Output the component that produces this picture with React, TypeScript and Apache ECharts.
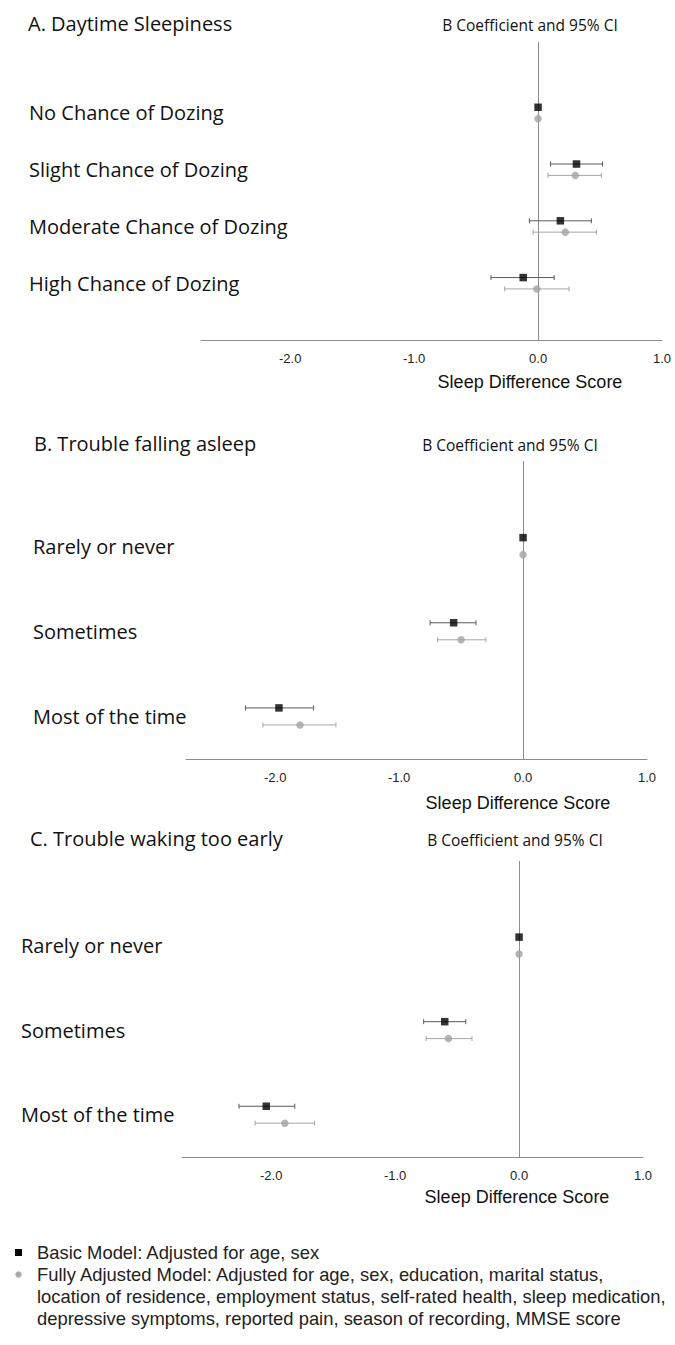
import React, { useEffect, useRef } from 'react';
import * as echarts from 'echarts';

// ---------- data ----------
const catsA = ['No Chance of Dozing', 'Slight Chance of Dozing', 'Moderate Chance of Dozing', 'High Chance of Dozing'];
const basicA = [0, 0.31, 0.18, -0.12];
const basicALo = [null, 0.10, -0.07, -0.38];
const basicAHi = [null, 0.52, 0.43, 0.13];
const fullA = [0, 0.30, 0.22, -0.01];
const fullALo = [null, 0.08, -0.04, -0.27];
const fullAHi = [null, 0.51, 0.47, 0.25];

const catsB = ['Rarely or never', 'Sometimes', 'Most of the time'];
const basicB = [0, -0.56, -1.97];
const basicBLo = [null, -0.75, -2.24];
const basicBHi = [null, -0.38, -1.69];
const fullB = [0, -0.50, -1.80];
const fullBLo = [null, -0.69, -2.10];
const fullBHi = [null, -0.30, -1.51];

const catsC = ['Rarely or never', 'Sometimes', 'Most of the time'];
const basicC = [0, -0.60, -2.04];
const basicCLo = [null, -0.77, -2.26];
const basicCHi = [null, -0.43, -1.81];
const fullC = [0, -0.57, -1.89];
const fullCLo = [null, -0.75, -2.13];
const fullCHi = [null, -0.38, -1.65];

const xTicks = [-2, -1, 0, 1];
const panelTitles = ['A. Daytime Sleepiness', 'B. Trouble falling asleep', 'C. Trouble waking too early'];
const coefTitle = 'B Coefficient and 95% CI';
const xName = 'Sleep Difference Score';
const legendBasic = ['Basic Model: Adjusted for age, sex'];
const legendFull = [
  'Fully Adjusted Model: Adjusted for age, sex, education, marital status,',
  'location of residence, employment status, self-rated health, sleep medication,',
  'depressive symptoms, reported pain, season of recording, MMSE score',
];

// ---------- layout / style ----------
const CAL = "'Open Sans', 'Noto Sans', sans-serif";
const ARI = "'Liberation Sans', Arial, sans-serif";
const XMIN = -2.72;
const XMAX = 1.0;
const OFF = 0.1;

const panels = [
  {
    cats: catsA, basic: basicA, bLo: basicALo, bHi: basicAHi, full: fullA, fLo: fullALo, fHi: fullAHi,
    grid: { left: 201, top: 42, width: 461, height: 298 }, yMin: -0.25, yMax: 5, labelX: 29,
    titleX: 28, titleY: 23, coefX: 530, coefY: 25, nameX: 530, nameY: 382,
  },
  {
    cats: catsB, basic: basicB, bLo: basicBLo, bHi: basicBHi, full: fullB, fLo: fullBLo, fHi: fullBHi,
    grid: { left: 186, top: 461, width: 461, height: 298 }, yMin: 0, yMax: 3.5, labelX: 33,
    titleX: 34, titleY: 443, coefX: 510, coefY: 445, nameX: 518, nameY: 803,
  },
  {
    cats: catsC, basic: basicC, bLo: basicCLo, bHi: basicCHi, full: fullC, fLo: fullCLo, fHi: fullCHi,
    grid: { left: 182, top: 861, width: 461, height: 296 }, yMin: 0, yMax: 3.5, labelX: 21,
    titleX: 30, titleY: 838, coefX: 515, coefY: 840, nameX: 517, nameY: 1197,
  },
];

function ciRender(color: string) {
  return (params: any, api: any) => {
    const lo = api.coord([api.value(0), api.value(2)]);
    const hi = api.coord([api.value(1), api.value(2)]);
    const cap = 2.5;
    const st = { stroke: color, lineWidth: 1 };
    return {
      type: 'group',
      children: [
        { type: 'line', shape: { x1: lo[0], y1: lo[1], x2: hi[0], y2: hi[1] }, style: st },
        { type: 'line', shape: { x1: lo[0], y1: lo[1] - cap, x2: lo[0], y2: lo[1] + cap }, style: st },
        { type: 'line', shape: { x1: hi[0], y1: hi[1] - cap, x2: hi[0], y2: hi[1] + cap }, style: st },
      ],
    };
  };
}

function buildOption() {
  const grid: any[] = [];
  const xAxis: any[] = [];
  const yAxis: any[] = [];
  const series: any[] = [];
  const graphic: any[] = [];

  panels.forEach((p, i) => {
    grid.push({ ...p.grid, containLabel: false });
    xAxis.push({
      gridIndex: i,
      type: 'value',
      min: XMIN,
      max: XMAX,
      axisLine: { show: true, onZero: false, lineStyle: { color: '#8c8c8c', width: 1 } },
      axisTick: { show: false },
      splitLine: { show: false },
      axisLabel: {
        customValues: xTicks,
        formatter: (v: number) => v.toFixed(1),
        fontFamily: ARI,
        fontSize: 13,
        color: '#222',
        margin: 12,
      },
    });
    yAxis.push({
      gridIndex: i,
      type: 'value',
      inverse: true,
      min: p.yMin,
      max: p.yMax,
      axisLine: { show: false },
      axisTick: { show: false },
      splitLine: { show: false },
      axisLabel: {
        customValues: p.cats.map((_, k) => k + 1),
        formatter: (v: number) => p.cats[Math.round(v) - 1] ?? '',
        align: 'left',
        margin: p.grid.left - p.labelX,
        fontFamily: CAL,
        fontSize: 20,
        color: '#111',
      },
    });

    const bCI: any[] = [];
    const fCI: any[] = [];
    p.cats.forEach((_, k) => {
      if (p.bLo[k] != null) bCI.push([p.bLo[k], p.bHi[k], k + 1 - OFF]);
      if (p.fLo[k] != null) fCI.push([p.fLo[k], p.fHi[k], k + 1 + OFF]);
    });

    series.push({
      type: 'custom', xAxisIndex: i, yAxisIndex: i, renderItem: ciRender('#5a5a5a'),
      data: bCI, encode: { x: [0, 1], y: 2 }, silent: true, z: 2,
    });
    series.push({
      type: 'custom', xAxisIndex: i, yAxisIndex: i, renderItem: ciRender('#a6a6a6'),
      data: fCI, encode: { x: [0, 1], y: 2 }, silent: true, z: 2,
    });
    series.push({
      type: 'scatter', name: 'Basic Model', xAxisIndex: i, yAxisIndex: i,
      symbol: 'rect', symbolSize: 7.5, itemStyle: { color: '#000' }, z: 4,
      data: p.basic.map((v, k) => [v, k + 1 - OFF]),
      markLine: {
        silent: true, symbol: ['none', 'none'], label: { show: false },
        lineStyle: { color: '#8c8c8c', width: 1, type: 'solid' },
        data: [{ xAxis: 0 }], z: 1,
      },
    });
    series.push({
      type: 'scatter', name: 'Fully Adjusted Model', xAxisIndex: i, yAxisIndex: i,
      symbol: 'circle', symbolSize: 7.5, itemStyle: { color: '#a3a3a3' }, z: 4,
      data: p.full.map((v, k) => [v, k + 1 + OFF]),
    });

    graphic.push({
      type: 'text', x: p.titleX, y: p.titleY,
      style: { text: panelTitles[i], fontFamily: CAL, fontSize: 20, fill: '#111', align: 'left', verticalAlign: 'middle' },
    });
    graphic.push({
      type: 'text', x: p.coefX, y: p.coefY,
      style: { text: coefTitle, fontFamily: CAL, fontSize: 15.5, fill: '#111', align: 'center', verticalAlign: 'middle' },
    });
    graphic.push({
      type: 'text', x: p.nameX, y: p.nameY,
      style: { text: xName, fontFamily: ARI, fontSize: 18, fill: '#111', align: 'center', verticalAlign: 'middle' },
    });
  });

  // legend block
  graphic.push({ type: 'rect', shape: { x: 15, y: 1249, width: 7, height: 7 }, style: { fill: '#000' } });
  graphic.push({ type: 'circle', shape: { cx: 18.5, cy: 1274.5, r: 3.2 }, style: { fill: '#a8a8a8' } });
  const legendLines = [...legendBasic, ...legendFull];
  const ly = [1252.5, 1274.5, 1296.5, 1318.5];
  legendLines.forEach((t, k) => {
    graphic.push({
      type: 'text', x: 37, y: ly[k],
      style: { text: t, fontFamily: ARI, fontSize: 18.4, fill: '#222', align: 'left', verticalAlign: 'middle' },
    });
  });

  return {
    animation: false,
    backgroundColor: '#ffffff',
    grid,
    xAxis,
    yAxis,
    series,
    graphic,
  };
}

export default function App() {
  const ref = useRef<HTMLDivElement>(null);
  useEffect(() => {
    document.body.style.margin = '0';
    if (!ref.current) return;
    const chart = echarts.init(ref.current, undefined, { renderer: 'svg' });
    chart.setOption(buildOption() as any);
    return () => chart.dispose();
  }, []);
  return <div ref={ref} style={{ width: 675, height: 1345 }} />;
}
